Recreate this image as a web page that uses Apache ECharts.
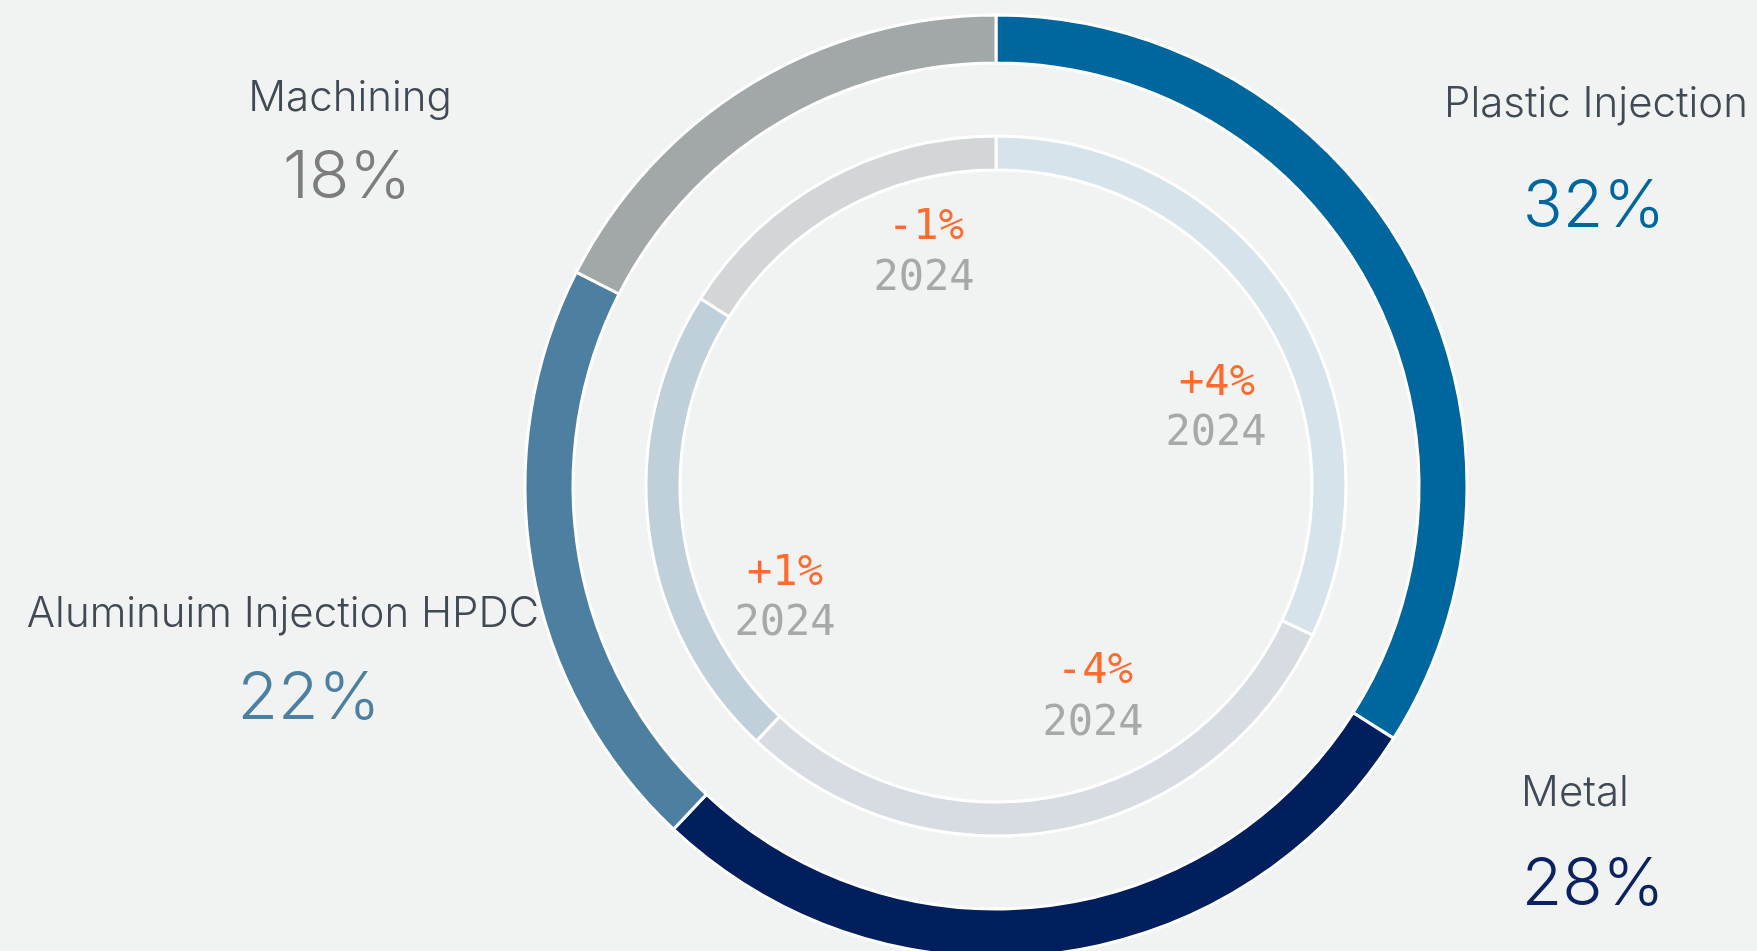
<!DOCTYPE html>
<html>
<head>
<meta charset="utf-8">
<script src="https://cdn.jsdelivr.net/npm/echarts@6/dist/echarts.min.js"></script>
<style>
html,body{margin:0;padding:0;background:#f1f2f2;}
#chart{width:1757px;height:951px;}
</style>
</head>
<body>
<div id="chart"></div>
<script>
// ---- data ----
const categories = ['Plastic Injection', 'Metal', 'Aluminuim Injection HPDC', 'Machining'];
const shareLabels = [32, 28, 22, 18];          // percentages written next to the ring
const outerValues = [34, 28, 20.5, 17.5];      // outer ring slices
const innerValues = [32, 30, 22, 16];          // inner ring slices (2024)
const changeLabels = ['+4%', '-4%', '+1%', '-1%'];
const yearLabel = '2024';

// ---- styles / layout ----
const outerColors = ['#00669e', '#001f5c', '#4d80a0', '#a2a7a7'];
const innerColors = ['#d7e3ea', '#d7dce3', '#bfd0da', '#d3d6d7'];
const valueColors = ['#00669e', '#0b2260', '#4d80a0', '#7d7d7d'];
const nameColor = '#3f4a54';
const namePos  = [[1596, 104], [1575, 793], [283, 614], [350, 98]];
const valuePos = [[1594, 207], [1593, 885], [309, 699], [347, 178]];
const changePos = [[1217, 384], [1095, 672], [785, 574], [926, 228]];
const yearPos   = [[1216, 434], [1093, 724], [785, 624], [924, 279]];
const center = [996, 486];

const chart = echarts.init(document.getElementById('chart'));
const graphics = [];
categories.forEach((c, i) => {
  graphics.push({type: 'text', style: {text: c, x: namePos[i][0], y: namePos[i][1],
    font: '300 42px Inter', fill: nameColor, textAlign: 'center', textVerticalAlign: 'middle'}});
  graphics.push({type: 'text', style: {text: shareLabels[i] + '%', x: valuePos[i][0], y: valuePos[i][1],
    font: '300 66px Inter', fill: valueColors[i], textAlign: 'center', textVerticalAlign: 'middle'}});
  graphics.push({type: 'text', style: {text: changeLabels[i], x: changePos[i][0], y: changePos[i][1],
    font: '500 42px "DejaVu Sans Mono"', fill: '#ff6a2e', textAlign: 'center', textVerticalAlign: 'middle'}});
  graphics.push({type: 'text', style: {text: yearLabel, x: yearPos[i][0], y: yearPos[i][1],
    font: '42px "DejaVu Sans Mono"', fill: '#a5a9a9', textAlign: 'center', textVerticalAlign: 'middle'}});
});

chart.setOption({
  backgroundColor: '#f1f2f2',
  animation: false,
  graphic: graphics,
  series: [
    {
      type: 'pie', center: center, radius: [423, 471], startAngle: 90, clockwise: true,
      silent: true, label: {show: false}, labelLine: {show: false},
      itemStyle: {borderColor: '#ffffff', borderWidth: 3},
      data: categories.map((c, i) => ({name: c, value: outerValues[i], itemStyle: {color: outerColors[i]}}))
    },
    {
      type: 'pie', center: center, radius: [316, 350], startAngle: 90, clockwise: true,
      silent: true, label: {show: false}, labelLine: {show: false},
      itemStyle: {borderColor: '#ffffff', borderWidth: 3},
      data: categories.map((c, i) => ({name: c, value: innerValues[i], itemStyle: {color: innerColors[i]}}))
    }
  ]
});
</script>
</body>
</html>
